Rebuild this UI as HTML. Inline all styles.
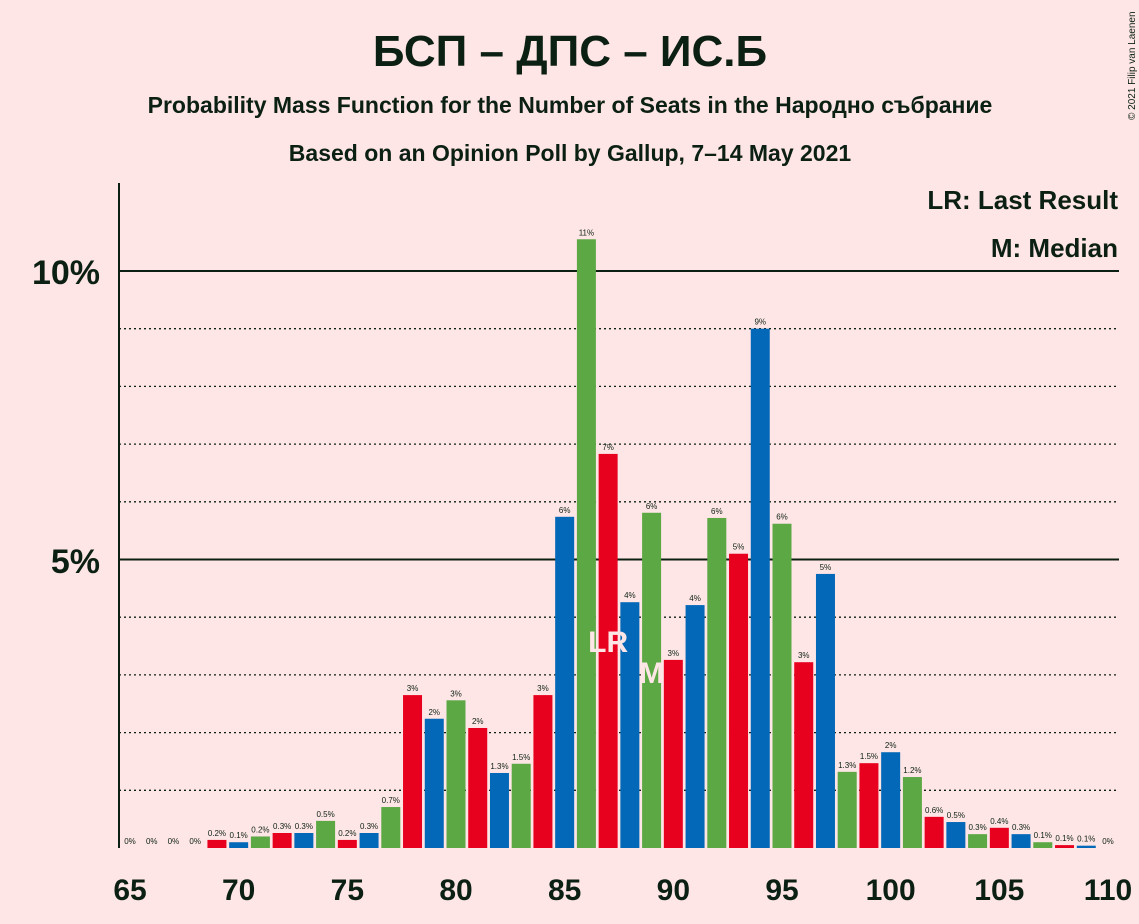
<!DOCTYPE html>
<html><head><meta charset="utf-8"><style>
body{margin:0;background:#FFE6E6;}
svg{display:block;font-family:"Liberation Sans","Noto Sans CJK SC",sans-serif;}
</style></head><body>
<svg id="chart" width="1139" height="924" viewBox="0 0 1139 924">
<rect width="1139" height="924" fill="#FFE6E6"/>
<text x="570" y="66" text-anchor="middle" font-size="44" font-weight="bold" fill="#0B2013">БСП – ДПС – ИС.Б</text>
<text x="570" y="113" text-anchor="middle" font-size="23" font-weight="bold" fill="#0B2013">Probability Mass Function for the Number of Seats in the Народно събрание</text>
<text x="570" y="161" text-anchor="middle" font-size="23" font-weight="bold" fill="#0B2013">Based on an Opinion Poll by Gallup, 7–14 May 2021</text>
<text transform="translate(1135,120) rotate(-90)" font-size="10" fill="#0B2013">© 2021 Filip van Laenen</text>
<g id="grid"></g>
<g id="bars"></g>
<g id="labels"></g>
<line x1="119" y1="183" x2="119" y2="848" stroke="#0B2013" stroke-width="2"/>
<text x="100" y="284" text-anchor="end" font-size="34" font-weight="bold" fill="#0B2013">10%</text>
<text x="100" y="573" text-anchor="end" font-size="34" font-weight="bold" fill="#0B2013">5%</text>
<text x="1118" y="209" text-anchor="end" font-size="26" font-weight="bold" fill="#0B2013">LR: Last Result</text>
<text x="1118" y="257" text-anchor="end" font-size="26" font-weight="bold" fill="#0B2013">M: Median</text>
<g id="xticks"></g>
</svg>
<script>
const seats=[65,66,67,68,69,70,71,72,73,74,75,76,77,78,79,80,81,82,83,84,85,86,87,88,89,90,91,92,93,94,95,96,97,98,99,100,101,102,103,104,105,106,107,108,109,110];
const probs=[0,0,0,0,0.14,0.1,0.2,0.26,0.26,0.47,0.14,0.26,0.71,2.65,2.24,2.56,2.08,1.3,1.46,2.65,5.74,10.55,6.83,4.26,5.81,3.26,4.21,5.72,5.1,9.0,5.62,3.22,4.75,1.32,1.47,1.66,1.23,0.54,0.45,0.24,0.35,0.24,0.1,0.05,0.04,0];
const labels=["0%","0%","0%","0%","0.2%","0.1%","0.2%","0.3%","0.3%","0.5%","0.2%","0.3%","0.7%","3%","2%","3%","2%","1.3%","1.5%","3%","6%","11%","7%","4%","6%","3%","4%","6%","5%","9%","6%","3%","5%","1.3%","1.5%","2%","1.2%","0.6%","0.5%","0.3%","0.4%","0.3%","0.1%","0.1%","0.1%","0%"];
const xTicks=[65,70,75,80,85,90,95,100,105,110];
const lastResult=87, median=89;
const NS="http://www.w3.org/2000/svg";
const x=s=>130+(s-65)*(1108-130)/45;
const y=p=>848-p*57.7;
const colors=["#E8001F","#0468B8","#5BA845"];
function mk(tag,attrs,parent){const e=document.createElementNS(NS,tag);for(const k in attrs)e.setAttribute(k,attrs[k]);parent.appendChild(e);return e;}
const grid=document.getElementById('grid');
for(let p=1;p<=10;p++){
  const l=mk('line',{x1:119,x2:1119,y1:y(p),y2:y(p),stroke:'#0B2013','stroke-width':p%5===0?2:1.3,'stroke-dasharray':p%5===0?'':'2,3'},grid);
  
  
}
const bars=document.getElementById('bars'),lab=document.getElementById('labels');
seats.forEach((s,i)=>{
  const p=probs[i];
  if(p>0){
    const r=mk('rect',{x:x(s)-9.5,y:y(p),width:19,height:848-y(p),fill:colors[s%3]},bars);
    
    
  }
  const t=mk('text',{x:x(s),y:y(p)-4,'text-anchor':'middle','font-size':8,fill:'#0B2013'},lab);
  t.textContent=labels[i];
  
  
});
[[lastResult,'LR',652],[median,'M',683]].forEach(([s,txt,yy])=>{
  const t=mk('text',{x:x(s),y:yy,'text-anchor':'middle','font-size':30,'font-weight':'bold',fill:'#FFE6E6'},lab);
  t.textContent=txt;
  
  
});
const xt=document.getElementById('xticks');
xTicks.forEach(s=>{
  const t=mk('text',{x:x(s),y:900,'text-anchor':'middle','font-size':30,'font-weight':'bold',fill:'#0B2013'},xt);
  t.textContent=s;
  
  
});
</script>
</body></html>
